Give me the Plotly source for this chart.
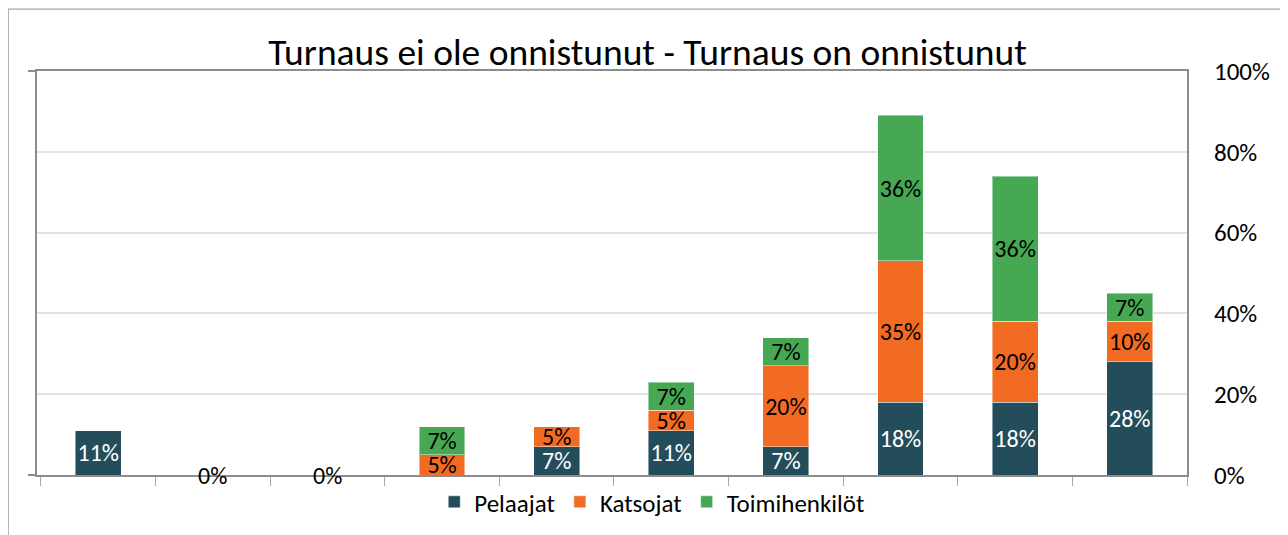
import plotly.graph_objects as go

categories = ["1", "2", "3", "4", "5", "6", "7", "8", "9", "10"]
pelaajat = [11, 0, 0, 0, 7, 11, 7, 18, 18, 28]
katsojat = [0, 0, 0, 5, 5, 5, 20, 35, 20, 10]
toimihenkilot = [0, 0, 0, 7, 0, 7, 7, 36, 36, 7]
series_names = ["Pelaajat", "Katsojat", "Toimihenkilöt"]
series_colors = ["#234D5B", "#F26B23", "#46A853"]
text_colors = ["white", "black", "black"]
y_ticks = [0, 20, 40, 60, 80, 100]
title_text = "Turnaus ei ole onnistunut - Turnaus on onnistunut"

FONT = "Carlito, Calibri, Lato, sans-serif"
LBL = 24

fig = go.Figure()
for name, vals, col, tcol in zip(series_names, [pelaajat, katsojat, toimihenkilot], series_colors, text_colors):
    fig.add_trace(go.Bar(
        name=name, x=categories, y=vals,
        marker=dict(color=col, line=dict(color="rgba(255,255,255,0.45)", width=1)),
        text=[f"{v}%" if v > 0 else "" for v in vals],
        textposition="inside", insidetextanchor="middle", textangle=0,
        constraintext="none",
        textfont=dict(color=tcol, size=LBL, family=FONT),
        hoverinfo="skip",
    ))

# zero-total labels
totals = [a + b + c for a, b, c in zip(pelaajat, katsojat, toimihenkilot)]
for i, tot in enumerate(totals):
    if tot == 0:
        fig.add_annotation(x=i, y=0, text=f"{tot}%", showarrow=False,
                           yanchor="middle", font=dict(size=LBL, color="black", family=FONT))

# invisible trace for left axis ticks
fig.add_trace(go.Scatter(x=[categories[0]], y=[0], yaxis="y2", mode="markers",
                         marker=dict(opacity=0), showlegend=False, hoverinfo="skip"))

fig.update_layout(
    width=1288, height=535,
    barmode="stack", bargap=0.6,
    plot_bgcolor="white", paper_bgcolor="white",
    margin=dict(l=29, r=109, t=63, b=68),
    font=dict(family=FONT, color="black"),
    title=dict(text=title_text, x=0.4965, xanchor="center", y=0.918, yanchor="middle",
               font=dict(size=37.5, family=FONT, color="black")),
    legend=dict(orientation="h", x=0.535, xanchor="center", y=-0.067, yanchor="middle",
                font=dict(size=25, family=FONT), traceorder="normal", bgcolor="rgba(0,0,0,0)"),
    xaxis=dict(type="category", showline=True, mirror=True, linecolor="#8c8c8c", linewidth=2,
               ticks="outside", tickson="boundaries", ticklen=9, tickcolor="#a6a6a6", tickwidth=1,
               showticklabels=False, showgrid=False),
    yaxis=dict(side="right", range=[0, 100], tickvals=y_ticks,
               ticktext=[f"{t}%" for t in y_ticks], showline=True, mirror=True,
               linecolor="#8c8c8c", linewidth=2, showgrid=True, gridcolor="#e3e3e3", gridwidth=2,
               ticks="", ticklabelstandoff=20, tickfont=dict(size=25, family=FONT), zeroline=False),
    yaxis2=dict(overlaying="y", side="left", range=[0, 100], tickvals=[0, 100],
                ticks="outside", ticklen=8, tickcolor="#8c8c8c", tickwidth=1.5,
                showticklabels=False, showgrid=False, showline=False, zeroline=False),
    shapes=[dict(type="rect", xref="paper", yref="paper", x0=-0.025, x1=1.0835, y0=-0.17, y1=1.153,
                 line=dict(color="#a8a8a8", width=1.2), fillcolor="rgba(0,0,0,0)", layer="below")],
)

fig.write_html("out.html")
